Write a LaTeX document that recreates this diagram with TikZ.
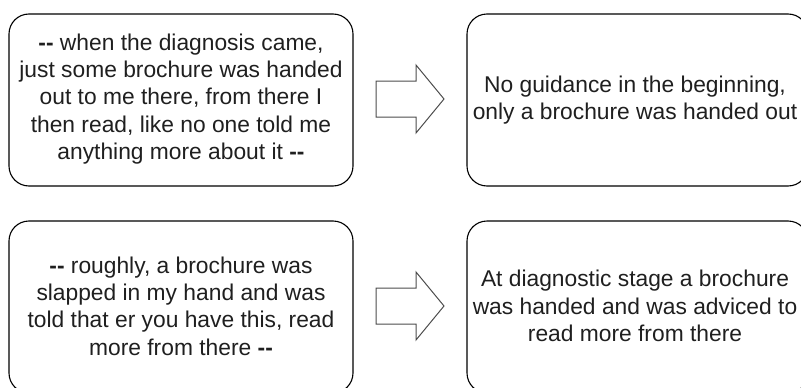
\documentclass[tikz,border=0pt]{standalone}
\usepackage{fontspec}
\setmainfont{Liberation Sans}
\newcommand{\dd}{\textbf{-{}-}}
\begin{document}
\begin{tikzpicture}[x=1pt,y=1pt,
  quotebox/.style={draw=black, line width=1.1pt, rounded corners=20pt, minimum width=344pt, minimum height=172pt, inner sep=0pt},
  resbox/.style={draw=black, line width=1.1pt, rounded corners=20pt, minimum width=341pt, minimum height=172pt, inner sep=0pt},
  txt/.style={align=center, text=black!88, font=\fontsize{22.8}{27.4}\selectfont},
  bigarrow/.style={draw=black!70, line width=1pt, line join=miter}
]
\useasboundingbox (0,0) rectangle (801,-388);
\clip (0,0) rectangle (801,-388);

\node[quotebox] (q1) at (181,-100) {};
\node[txt] (q1t) at (181,-99) {\dd{} when the diagnosis came,\\just some brochure was handed\\out to me there, from there I\\then read, like no one told me\\anything more about it \dd};

\node[resbox] (r1) at (637.5,-100) {};
\node[txt] (r1t) at (635,-100) {No guidance in the beginning,\\only a brochure was handed out};

\node[quotebox] (q2) at (181,-307) {};
\node[txt] (q2t) at (181,-306) {\dd{} roughly, a brochure was\\slapped in my hand and was\\told that er you have this, read\\more from there \dd};

\node[resbox] (r2) at (637.5,-307) {};
\node[txt] (r2t) at (635,-306) {At diagnostic stage a brochure\\was handed and was adviced to\\read more from there};

\draw[bigarrow] (376,-81) -- (416,-81) -- (416,-65) -- (444,-99) -- (416,-133) -- (416,-117) -- (376,-117) -- cycle;
\draw[bigarrow] (376,-288) -- (416,-288) -- (416,-272) -- (444,-306) -- (416,-340) -- (416,-324) -- (376,-324) -- cycle;
\end{tikzpicture}
\end{document}
